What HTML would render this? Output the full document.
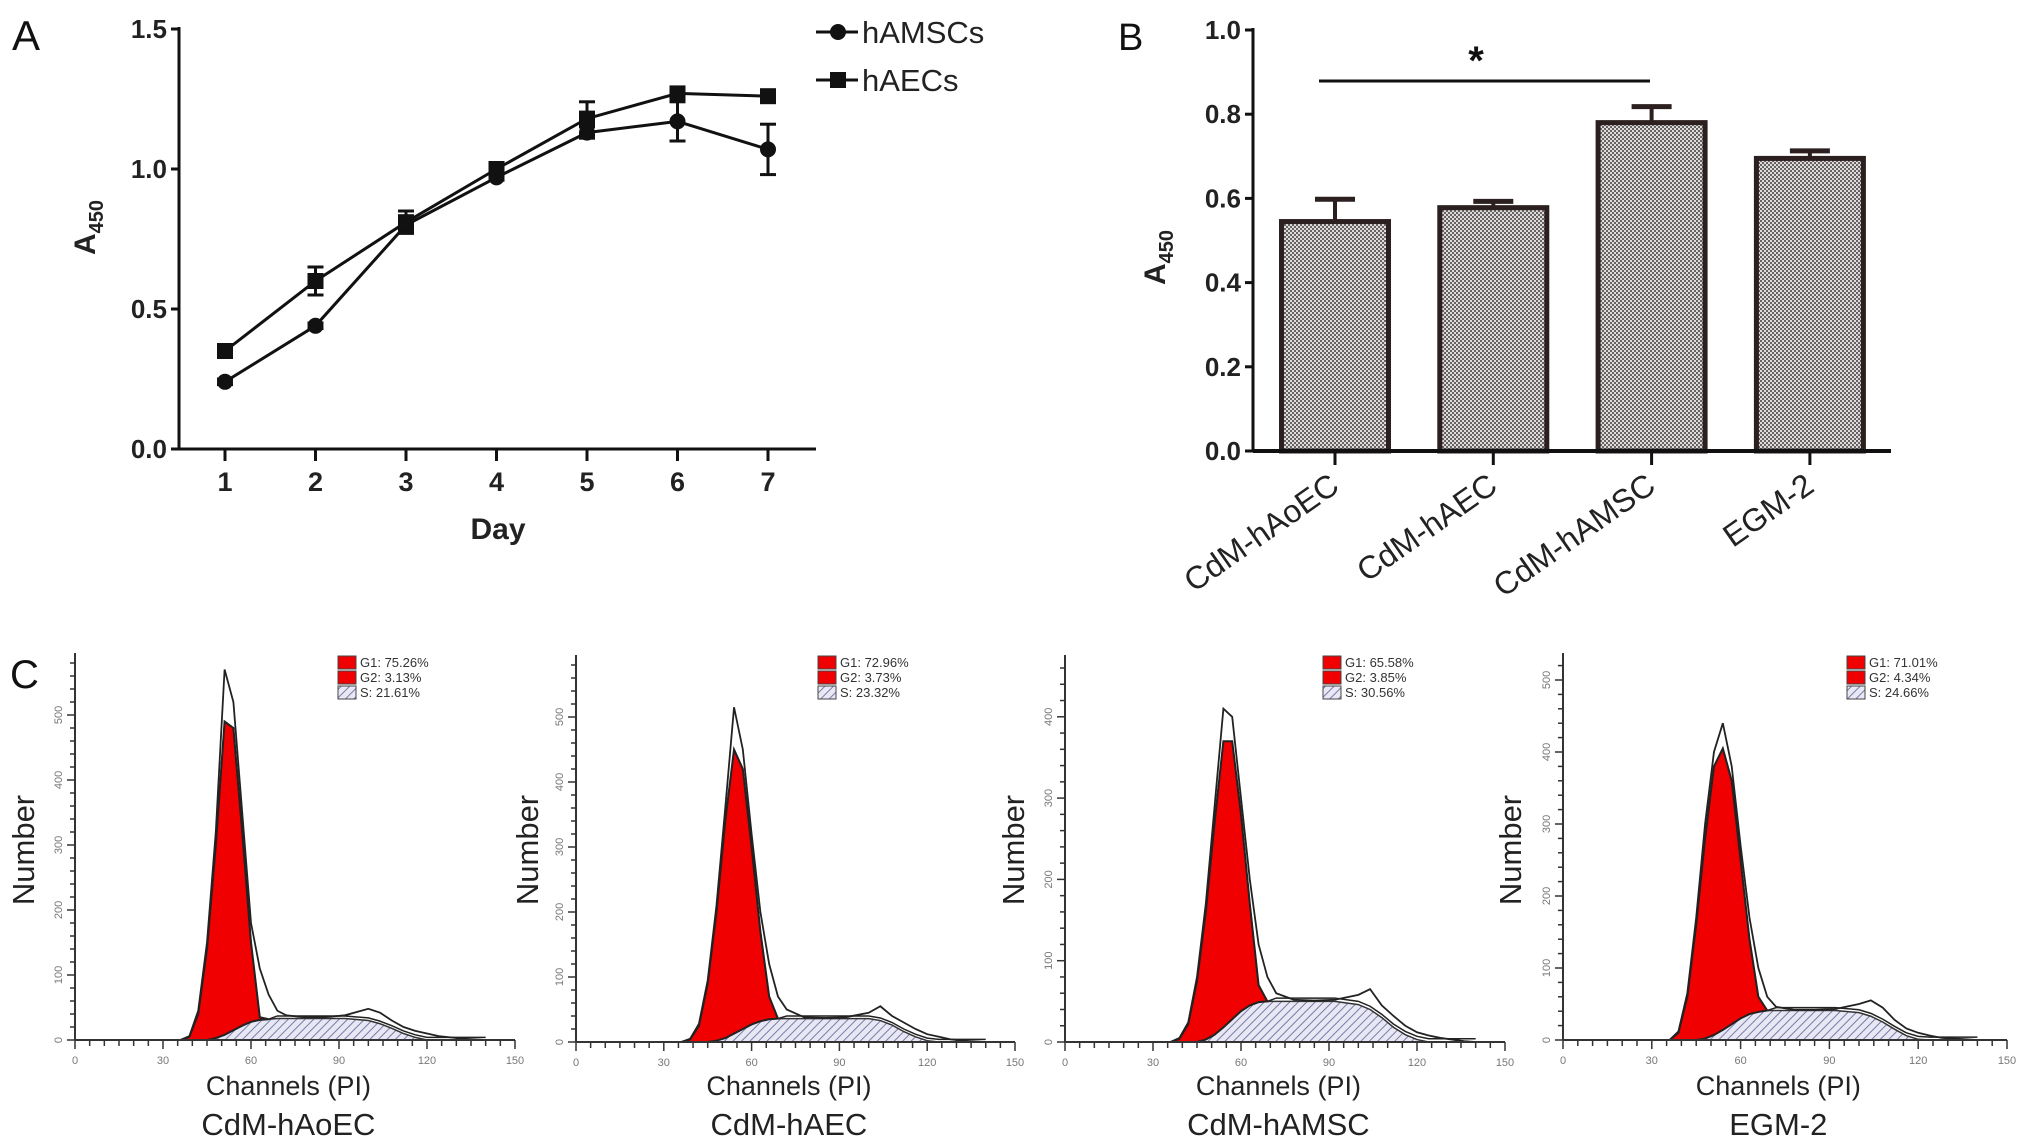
<!DOCTYPE html>
<html><head><meta charset="utf-8">
<style>
html,body{margin:0;padding:0;background:#fff;}
svg{display:block;}
text{font-family:"Liberation Sans",sans-serif;}
.nar{font-family:"Liberation Sans Narrow","Liberation Sans",sans-serif;font-weight:bold;}
</style></head>
<body>
<svg id="fig" width="2031" height="1146" viewBox="0 0 2031 1146" xmlns="http://www.w3.org/2000/svg">
<defs>
<pattern id="dots" width="4" height="4" patternUnits="userSpaceOnUse">
<rect width="4" height="4" fill="#dcdcdc"/>
<rect x="0" y="0" width="2" height="2" fill="#6a6262"/>
<rect x="2" y="2" width="2" height="2" fill="#6a6262"/>
</pattern>
<pattern id="hatch" width="6" height="6" patternUnits="userSpaceOnUse" patternTransform="rotate(45)">
<rect width="6" height="6" fill="#e8e8f4"/>
<line x1="0" y1="0" x2="0" y2="6" stroke="#7a7aa8" stroke-width="2"/>
</pattern>
</defs>
<g id="panelA"></g>
<g id="panelB"></g>
<g id="panelC"></g>
</svg>
<script>
// ---------- Panel A data ----------
const days = [1,2,3,4,5,6,7];
const hAMSCs = [0.24,0.44,0.80,0.97,1.13,1.17,1.07];
const hAMSCsErr = [0.01,0.01,0.02,0.01,0.02,0.07,0.09];
const hAECs = [0.35,0.60,0.81,1.00,1.18,1.27,1.26];
const hAECsErr = [0.01,0.05,0.04,0.02,0.06,0.02,0.01];
const aYTicks = [0.0,0.5,1.0,1.5];
const aYTickLabels = ["0.0","0.5","1.0","1.5"];
// ---------- Panel B data ----------
const groups = ["CdM-hAoEC","CdM-hAEC","CdM-hAMSC","EGM-2"];
const groupVals = [0.545,0.578,0.780,0.695];
const groupErr = [0.053,0.015,0.038,0.018];
const bYTicks = [0.0,0.2,0.4,0.6,0.8,1.0];
const bYTickLabels = ["0.0","0.2","0.4","0.6","0.8","1.0"];
const sigLevel = 0.879;
// ---------- Panel C data ----------
const chGrid = [36,39,42,45,48,51,54,57,60,63,66,69,72,78,85,92,100,104,108,112,116,120,124,128,132,136,140];
const cNames = ["CdM-hAoEC","CdM-hAEC","CdM-hAMSC","EGM-2"];
const cG1 = ["G1: 75.26%","G1: 72.96%","G1: 65.58%","G1: 71.01%"];
const cG2 = ["G2: 3.13%","G2: 3.73%","G2: 3.85%","G2: 4.34%"];
const cS = ["S: 21.61%","S: 23.32%","S: 30.56%","S: 24.66%"];
const cYTicks = [[0,100,200,300,400,500],[0,100,200,300,400,500],[0,100,200,300,400],[0,100,200,300,400,500]];
const sCounts1 = [0,0,0,0,3,8,15,22,28,31,32,33,33,33,33,33,30,25,18,10,4,0,0,0,0,0,0];
const fitTop1 = [0,5,40,140,300,490,480,320,150,35,32,33,33,33,33,33,30,25,18,10,4,0,0,0,0,0,0];
const raw1 = [0,6,45,150,320,570,520,350,180,110,70,45,38,35,35,38,48,42,30,20,14,10,6,4,2,1,0];
const sCounts2 = [0,0,0,0,2,6,13,20,27,32,35,36,36,36,36,36,36,33,26,16,8,2,0,0,0,0,0];
const fitTop2 = [0,4,25,90,200,340,450,420,300,170,70,36,36,36,36,36,36,33,26,16,8,2,0,0,0,0,0];
const raw2 = [0,5,28,95,210,360,515,450,320,200,120,70,50,38,37,38,45,55,40,30,20,12,8,4,2,1,0];
const sCounts3 = [0,0,0,0,3,9,18,28,38,45,49,50,50,50,50,50,46,40,30,18,9,3,0,0,0,0,0];
const fitTop3 = [0,4,22,75,160,270,370,370,280,170,70,50,50,50,50,50,46,40,30,18,9,3,0,0,0,0,0];
const raw3 = [0,5,24,80,170,290,410,400,300,200,120,80,60,52,51,52,58,65,45,32,20,12,8,5,3,1,0];
const sCounts4 = [0,0,0,0,2,7,14,22,30,36,39,41,41,41,41,41,38,33,25,15,6,1,0,0,0,0,0];
const fitTop4 = [0,10,60,160,280,380,405,360,250,140,60,41,41,41,41,41,38,33,25,15,6,1,0,0,0,0,0];
const raw4 = [0,12,65,170,300,400,440,380,270,170,100,60,46,42,42,43,50,55,45,28,16,10,6,3,2,1,0];
const sSeries = [sCounts1,sCounts2,sCounts3,sCounts4];
const fitSeries = [fitTop1,fitTop2,fitTop3,fitTop4];
const rawSeries = [raw1,raw2,raw3,raw4];

const NS = "http://www.w3.org/2000/svg";
function mk(tag, attrs, parent){
  const e=document.createElementNS(NS,tag);
  for(const k in attrs) e.setAttribute(k,attrs[k]);
  parent.appendChild(e); return e;
}

// ================= Panel A =================
(function(){
  const g=document.getElementById('panelA');
  const x0=179, xEnd=816, yBase=449, yTop=29;
  const xs=d=>225+(d-1)*(768-225)/6;
  const ys=v=>yBase-(v/1.5)*(yBase-yTop);
  let t=mk('text',{x:12,y:50,'font-size':42,fill:'#111'},g); t.textContent='A';
  
  
  let ax=mk('line',{x1:x0,y1:yTop-2,x2:x0,y2:yBase,stroke:'#111','stroke-width':3},g);
  
  
  ax=mk('line',{x1:x0,y1:yBase,x2:xEnd,y2:yBase,stroke:'#111','stroke-width':3},g);
  
  
  aYTicks.forEach((v,i)=>{
    mk('line',{x1:x0-8,y1:ys(v),x2:x0,y2:ys(v),stroke:'#111','stroke-width':3},g);
    const l=mk('text',{x:x0-12,y:ys(v)+9,'font-size':26,'text-anchor':'end',class:'nar',fill:'#222'},g);
    l.textContent=aYTickLabels[i];
    
    
  });
  days.forEach(d=>{
    mk('line',{x1:xs(d),y1:yBase,x2:xs(d),y2:yBase+12,stroke:'#111','stroke-width':3},g);
    const l=mk('text',{x:xs(d),y:491,'font-size':27,'text-anchor':'middle',class:'nar',fill:'#222'},g);
    l.textContent=String(d);
    
    
  });
  t=mk('text',{x:498,y:539,'font-size':30,'text-anchor':'middle',class:'nar',fill:'#222'},g);
  t.textContent='Day';
  
  
  t=mk('text',{x:0,y:0,'font-size':30,'font-weight':'bold',transform:'translate(95,255) rotate(-90)',fill:'#222'},g);
  t.innerHTML='A<tspan font-size="20" dy="8">450</tspan>';
  
  
  function series(vals,errs,shape,name){
    const sg=mk('g',{},g);
    
    
    const pts=days.map((d,i)=>xs(d)+','+ys(vals[i])).join(' ');
    mk('polyline',{points:pts,fill:'none',stroke:'#111','stroke-width':3},sg);
    days.forEach((d,i)=>{
      const x=xs(d),y=ys(vals[i]),eu=ys(vals[i]+errs[i]),el=ys(vals[i]-errs[i]);
      mk('line',{x1:x,y1:eu,x2:x,y2:el,stroke:'#111','stroke-width':3},sg);
      mk('line',{x1:x-8,y1:eu,x2:x+8,y2:eu,stroke:'#111','stroke-width':3},sg);
      mk('line',{x1:x-8,y1:el,x2:x+8,y2:el,stroke:'#111','stroke-width':3},sg);
      let m;
      if(shape==='c') m=mk('circle',{cx:x,cy:y,r:8,fill:'#111'},sg);
      else m=mk('rect',{x:x-8,y:y-8,width:16,height:16,fill:'#111'},sg);
      
      
    });
  }
  series(hAMSCs,hAMSCsErr,'c','series-hamscs');
  series(hAECs,hAECsErr,'s','series-haecs');
  // legend
  const lg=mk('g',{},g);
  
  
  mk('line',{x1:816,y1:32,x2:858,y2:32,stroke:'#111','stroke-width':3},lg);
  mk('circle',{cx:838,cy:32,r:8,fill:'#111'},lg);
  t=mk('text',{x:862,y:43,'font-size':31,fill:'#222'},lg); t.textContent='hAMSCs';
  
  
  mk('line',{x1:816,y1:80,x2:858,y2:80,stroke:'#111','stroke-width':3},lg);
  mk('rect',{x:830,y:72,width:16,height:16,fill:'#111'},lg);
  t=mk('text',{x:862,y:91,'font-size':31,fill:'#222'},lg); t.textContent='hAECs';
  
  
})();

// ================= Panel B =================
(function(){
  const g=document.getElementById('panelB');
  const x0=1253, xEnd=1891, yBase=451, yTop=30;
  const ys=v=>yBase-v*(yBase-yTop);
  const xc=i=>1335+i*158.3;
  const bw=107;
  let t=mk('text',{x:1118,y:50,'font-size':38,fill:'#111'},g); t.textContent='B';
  
  
  groups.forEach((name,i)=>{
    const v=groupVals[i], e=groupErr[i];
    const r=mk('rect',{x:xc(i)-bw/2,y:ys(v),width:bw,height:yBase-ys(v),fill:'url(#dots)',stroke:'#2b1f1f','stroke-width':5},g);
    
    
    mk('line',{x1:xc(i),y1:ys(v),x2:xc(i),y2:ys(v+e),stroke:'#2b1f1f','stroke-width':4},g);
    mk('line',{x1:xc(i)-20,y1:ys(v+e),x2:xc(i)+20,y2:ys(v+e),stroke:'#2b1f1f','stroke-width':5},g);
    mk('line',{x1:xc(i),y1:yBase,x2:xc(i),y2:yBase+14,stroke:'#111','stroke-width':3},g);
    const l=mk('text',{x:0,y:0,'font-size':32,'text-anchor':'end',fill:'#222',transform:'translate('+(xc(i)+6)+','+490+') rotate(-35)'},g);
    l.textContent=name;
    
    
  });
  let ax=mk('line',{x1:x0,y1:yTop-2,x2:x0,y2:yBase,stroke:'#111','stroke-width':3},g);
  
  
  ax=mk('line',{x1:x0,y1:yBase,x2:xEnd,y2:yBase,stroke:'#111','stroke-width':4},g);
  
  
  bYTicks.forEach((v,i)=>{
    mk('line',{x1:x0-8,y1:ys(v),x2:x0,y2:ys(v),stroke:'#111','stroke-width':3},g);
    const l=mk('text',{x:x0-12,y:ys(v)+9,'font-size':26,'text-anchor':'end',class:'nar',fill:'#222'},g);
    l.textContent=bYTickLabels[i];
    
    
  });
  t=mk('text',{x:0,y:0,'font-size':30,'font-weight':'bold',transform:'translate(1165,285) rotate(-90)',fill:'#222'},g);
  t.innerHTML='A<tspan font-size="20" dy="8">450</tspan>';
  
  
  const sl=mk('line',{x1:1319,y1:ys(sigLevel),x2:1650,y2:ys(sigLevel),stroke:'#111','stroke-width':3},g);
  
  
  t=mk('text',{x:1476,y:74,'font-size':40,'font-weight':'bold','text-anchor':'middle',fill:'#111'},g);
  t.textContent='*';
  
  
})();

// ================= Panel C =================
(function(){
  const root=document.getElementById('panelC');
  let t=mk('text',{x:10,y:688,'font-size':40,fill:'#111'},root); t.textContent='C';
  
  
  const cfg=[
    {x0:75,w:440,yb:1040,ytop:653,per100:65,nx:23,lx:338},
    {x0:576,w:439,yb:1042,ytop:655,per100:65,nx:527,lx:818},
    {x0:1065,w:440,yb:1042,ytop:655,per100:81.3,nx:1013,lx:1323},
    {x0:1563,w:444,yb:1040,ytop:653,per100:72,nx:1510,lx:1847}
  ];
  cfg.forEach((c,p)=>{
    const g=mk('g',{},root);
    
    
    const xs=ch=>c.x0+ch*c.w/150;
    const ys=n=>c.yb-n*c.per100/100;
    const S=sSeries[p], F=fitSeries[p], R=rawSeries[p];
    // S hatched area
    let d='M'+xs(chGrid[0])+','+ys(0);
    chGrid.forEach((ch,i)=>{d+=' L'+xs(ch)+','+ys(S[i]);});
    d+=' L'+xs(chGrid[chGrid.length-1])+','+ys(0)+' Z';
    let e=mk('path',{d:d,fill:'url(#hatch)',stroke:'#333','stroke-width':1.5},g);
    
    
    // G1 red area between S and fit top
    let idxEnd=0; F.forEach((v,i)=>{if(v>S[i]+0.5) idxEnd=i;});
    idxEnd=Math.min(idxEnd+1,chGrid.length-1);
    d='M'+xs(chGrid[0])+','+ys(F[0]);
    for(let i=1;i<=idxEnd;i++) d+=' L'+xs(chGrid[i])+','+ys(F[i]);
    for(let i=idxEnd;i>=0;i--) d+=' L'+xs(chGrid[i])+','+ys(S[i]);
    d+=' Z';
    e=mk('path',{d:d,fill:'#f00000',stroke:'#222','stroke-width':2},g);
    
    
    // fit envelope line
    e=mk('polyline',{points:chGrid.map((ch,i)=>xs(ch)+','+ys(F[i]+(i>idxEnd?4:0))).join(' '),fill:'none',stroke:'#222','stroke-width':1.5},g);
    
    
    // raw data line
    e=mk('polyline',{points:chGrid.map((ch,i)=>xs(ch)+','+ys(R[i])).join(' '),fill:'none',stroke:'#222','stroke-width':1.8},g);
    
    
    // axes
    e=mk('line',{x1:c.x0,y1:c.ytop,x2:c.x0,y2:c.yb,stroke:'#333','stroke-width':2},g);
    
    
    e=mk('line',{x1:c.x0,y1:c.yb,x2:c.x0+c.w,y2:c.yb,stroke:'#333','stroke-width':2},g);
    
    
    for(let ch=0;ch<=150;ch+=5){
      const maj=ch%30===0;
      mk('line',{x1:xs(ch),y1:c.yb,x2:xs(ch),y2:c.yb+(maj?9:6),stroke:'#333','stroke-width':1.5},g);
      if(maj){
        const l=mk('text',{x:xs(ch),y:c.yb+24,'font-size':11,'text-anchor':'middle',fill:'#777'},g);
        l.textContent=String(ch);
        
        
      }
    }
    for(let n=0;ys(n)>=c.ytop+4;n+=20){
      mk('line',{x1:c.x0-(n%100===0?8:5),y1:ys(n),x2:c.x0,y2:ys(n),stroke:'#333','stroke-width':1.5},g);
    }
    cYTicks[p].forEach(n=>{
      const l=mk('text',{x:0,y:0,'font-size':11,'text-anchor':'middle',fill:'#777',transform:'translate('+(c.x0-13)+','+ys(n)+') rotate(-90)'},g);
      l.textContent=String(n);
      
      
    });
    t=mk('text',{x:0,y:0,'font-size':31,'text-anchor':'middle',fill:'#222',transform:'translate('+(c.nx+11)+',850) rotate(-90)'},g);
    t.textContent='Number';
    
    
    t=mk('text',{x:c.x0+c.w*0.485,y:1095,'font-size':27,'text-anchor':'middle',fill:'#222'},g);
    t.textContent='Channels (PI)';
    
    
    t=mk('text',{x:c.x0+c.w*0.485,y:1135,'font-size':31,'text-anchor':'middle',fill:'#222'},g);
    t.textContent=cNames[p];
    
    
    // legend
    const lg=mk('g',{},g);
    
    
    const labs=[cG1[p],cG2[p],cS[p]];
    const fills=['#f00000','#f00000','url(#hatch)'];
    labs.forEach((s,i)=>{
      mk('rect',{x:c.lx,y:656+i*15,width:18,height:13,fill:fills[i],stroke:'#444','stroke-width':1},lg);
      const l=mk('text',{x:c.lx+22,y:667+i*15,'font-size':13,fill:'#333'},lg);
      l.textContent=s;
      
      
    });
  });
})();
</script>
</body></html>
